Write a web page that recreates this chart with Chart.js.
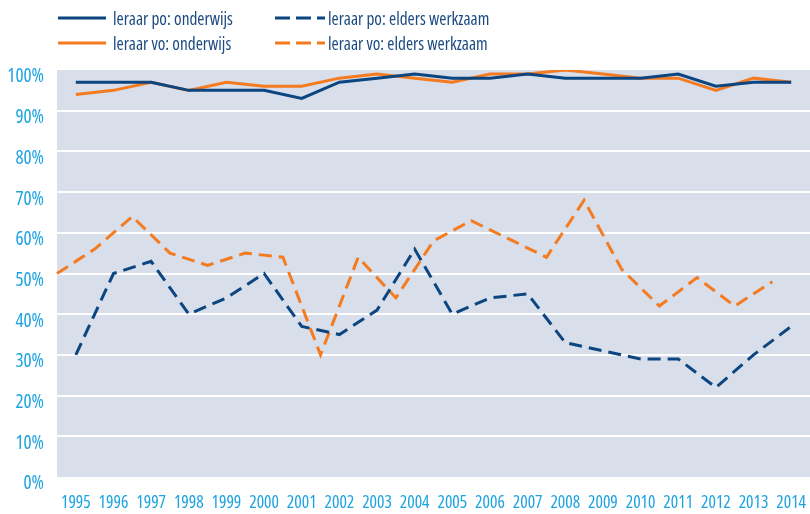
<!DOCTYPE html>
<html>
<head>
<meta charset="utf-8">
<script src="https://cdn.jsdelivr.net/npm/chart.js@4/dist/chart.umd.min.js"></script>
<style>
  html, body { margin:0; padding:0; background:#fff; }
  #wrap { position:relative; width:810px; height:514px; }
  #c { position:absolute; left:0; top:0; }
  .lg { position:absolute; height:24px; display:flex; align-items:center;
        font-family:"Open Sans",sans-serif; font-stretch:75%;
        font-size:17.3px; color:#1b4a80; white-space:nowrap; }
  .lg svg { display:block; margin-right:7px; }
</style>
</head>
<body>
<div id="wrap">
  <canvas id="c" width="810" height="514"></canvas>
  <div id="legend"></div>
</div>
<script>
// ---- data ----
const years = ['1995','1996','1997','1998','1999','2000','2001','2002','2003','2004',
               '2005','2006','2007','2008','2009','2010','2011','2012','2013','2014'];
const poOnderwijs = [97,97,97,95,95,95,93,97,98,99,98,98,99,98,98,98,99,96,97,97];
const voOnderwijs = [94,95,97,95,97,96,96,98,99,98,97,99,99,100,99,98,98,95,98,97];
const poElders    = [30,50,53,40,44,50,37,35,41,56,40,44,45,33,31,29,29,22,30,37];
const voElders    = [50,56,64,55,52,55,54,30,54,44,58,63,58.5,54,68,51,42,49,42,48];
const yTicks = [0,10,20,30,40,50,60,70,80,90,100];
const seriesNames = ['leraar po: onderwijs','leraar po: elders werkzaam','leraar vo: onderwijs','leraar vo: elders werkzaam'];

const BLUE = '#0b4680';
const ORANGE = '#f47b20';
const DASH = [13, 7];
// boundary categories for the (half-step shifted) vo-elders series
const boundaryLabels = years.concat(['']);

// ---- legend (HTML text) ----
const legendItems = [
  {name: seriesNames[0], color: BLUE,   dash: false, left: 58,  top: 6},
  {name: seriesNames[1], color: BLUE,   dash: true,  left: 275, top: 6},
  {name: seriesNames[2], color: ORANGE, dash: false, left: 58,  top: 31},
  {name: seriesNames[3], color: ORANGE, dash: true,  left: 275, top: 31}
];
const lgEl = document.getElementById('legend');
legendItems.forEach(it => {
  const d = document.createElement('div');
  d.className = 'lg';
  d.style.left = it.left + 'px';
  d.style.top = it.top + 'px';
  const w = it.dash ? 50 : 48;
  d.innerHTML = '<svg width="' + w + '" height="4"><line x1="0" y1="2" x2="' + w + '" y2="2" stroke="' + it.color +
    '" stroke-width="3"' + (it.dash ? ' stroke-dasharray="15,6"' : '') + '/></svg><span>' + it.name + '</span>';
  if (it.dash) d.querySelector('svg').style.marginRight = '3px';
  lgEl.appendChild(d);
});

// ---- plot background ----
const bgPlugin = {
  id: 'bg',
  beforeDraw(chart) {
    const a = chart.chartArea, ctx = chart.ctx;
    ctx.save();
    ctx.fillStyle = '#d8deea';
    ctx.fillRect(a.left, a.top, a.right - a.left, a.bottom - a.top);
    ctx.restore();
  }
};

const FONT = "'Open Sans', sans-serif";
const STRETCH = 'extra-condensed';

new Chart(document.getElementById('c'), {
  type: 'line',
  data: {
    labels: years,
    datasets: [
      {label: seriesNames[0], data: poOnderwijs, borderColor: BLUE, borderWidth: 3, xAxisID: 'x'},
      {label: seriesNames[1], data: poElders, borderColor: BLUE, borderWidth: 3, borderDash: DASH, xAxisID: 'x'},
      {label: seriesNames[2], data: voOnderwijs, borderColor: ORANGE, borderWidth: 3, xAxisID: 'x'},
      {label: seriesNames[3], data: voElders, borderColor: ORANGE, borderWidth: 3, borderDash: DASH, xAxisID: 'x2'}
    ]
  },
  options: {
    responsive: false,
    animation: false,
    devicePixelRatio: 1,
    layout: {padding: {top: 70, left: 0, right: 0, bottom: 0}},
    elements: {
      line: {tension: 0, fill: false, borderCapStyle: 'butt'},
      point: {radius: 0, hoverRadius: 0}
    },
    plugins: {legend: {display: false}, tooltip: {enabled: false}},
    scales: {
      x: {
        type: 'category',
        offset: true,
        grid: {display: false, drawTicks: false},
        border: {display: false},
        ticks: {
          color: '#1ca3e2', font: {family: FONT, size: 17.5, weight: STRETCH}, padding: 16,
          maxRotation: 0, autoSkip: false
        },
        afterFit(s) { s.height = 37; s.paddingLeft = 0; s.paddingRight = 0; }
      },
      x2: {
        type: 'category',
        labels: boundaryLabels,
        offset: false,
        display: false
      },
      y: {
        min: 0, max: 100,
        afterBuildTicks(s) { s.ticks = yTicks.map(v => ({value: v})); },
        grid: {
          color: ctx => (ctx.tick && (ctx.tick.value === 0 || ctx.tick.value === 100)) ? 'rgba(0,0,0,0)' : '#ffffff',
          lineWidth: 2, drawTicks: false
        },
        border: {display: false},
        ticks: {
          color: '#1ca3e2', font: {family: FONT, size: 19, weight: STRETCH}, padding: 13, labelOffset: 7,
          callback: v => v + '%'
        },
        afterFit(s) { s.width = 57; }
      }
    }
  },
  plugins: [bgPlugin]
});
</script>
</body>
</html>
